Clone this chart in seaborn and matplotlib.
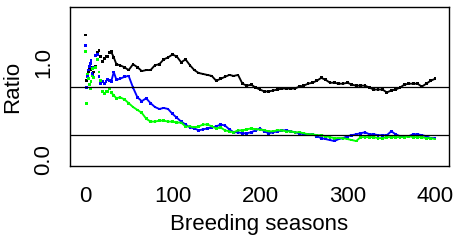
import matplotlib
matplotlib.use("Agg")
import matplotlib.pyplot as plt
import seaborn as sns
import pandas as pd

# ---- data ----
seasons = [1, 2, 3, 4, 5, 6, 7, 8, 9, 10, 12, 14, 16, 18, 20, 22, 24, 26, 28, 30, 33, 36, 40] + list(range(45, 401, 5))

black = [1.28, 0.81, 0.86, 0.90, 0.95, 0.95, 0.92, 0.89, 0.88, 0.90, 0.96, 1.10, 1.12, 1.06, 1.01, 1.04, 1.06, 1.06, 1.10, 1.11, 1.05, 0.98, 0.97,
         0.95, 0.92, 0.98, 0.95, 0.91, 0.92, 0.92, 0.97, 0.98, 1.03,
         1.05, 1.08, 1.06, 1.00, 1.03, 0.97, 0.92, 0.89, 0.88, 0.87,
         0.86, 0.81, 0.83, 0.85, 0.87, 0.86, 0.87, 0.78, 0.76, 0.77,
         0.74, 0.72, 0.70, 0.70, 0.71, 0.72, 0.73, 0.73, 0.73, 0.73,
         0.75, 0.76, 0.78, 0.79, 0.81, 0.84, 0.82, 0.79, 0.79, 0.78,
         0.78, 0.79, 0.77, 0.76, 0.76, 0.76, 0.74, 0.72, 0.72, 0.72,
         0.69, 0.71, 0.72, 0.74, 0.77, 0.78, 0.78, 0.78, 0.75, 0.78,
         0.81, 0.83]

blue = [1.17, 0.74, 0.85, 0.92, 0.96, 0.99, 1.02, 0.89, 0.87, 0.95, 1.07, 1.08, 0.85, 0.78, 0.80, 0.78, 0.80, 0.82, 0.81, 0.80, 0.90, 0.82, 0.83,
        0.85, 0.86, 0.74, 0.64, 0.60, 0.63, 0.58, 0.54, 0.52, 0.53,
        0.52, 0.47, 0.43, 0.39, 0.36, 0.33, 0.32, 0.30, 0.31, 0.32,
        0.33, 0.34, 0.36, 0.35, 0.31, 0.28, 0.28, 0.27, 0.27, 0.28,
        0.30, 0.32, 0.29, 0.27, 0.28, 0.29, 0.30, 0.30, 0.29, 0.28,
        0.27, 0.26, 0.26, 0.26, 0.24, 0.22, 0.21, 0.20, 0.19, 0.21,
        0.22, 0.24, 0.25, 0.26, 0.27, 0.28, 0.26, 0.26, 0.25, 0.25,
        0.25, 0.29, 0.26, 0.24, 0.24, 0.24, 0.26, 0.26, 0.25, 0.24,
        0.22, 0.22]

green = [1.11, 0.58, 0.88, 0.83, 0.77, 0.73, 0.80, 0.86, 0.94, 0.84, 0.95, 1.03, 0.90, 0.81, 0.70, 0.68, 0.70, 0.70, 0.73, 0.69, 0.66, 0.63, 0.64,
         0.62, 0.58, 0.54, 0.51, 0.48, 0.42, 0.39, 0.39, 0.40, 0.40,
         0.39, 0.39, 0.38, 0.38, 0.34, 0.34, 0.33, 0.34, 0.36, 0.36,
         0.34, 0.32, 0.33, 0.30, 0.29, 0.28, 0.30, 0.30, 0.31, 0.32,
         0.31, 0.31, 0.30, 0.29, 0.29, 0.30, 0.30, 0.29, 0.29, 0.28,
         0.28, 0.27, 0.26, 0.26, 0.25, 0.25, 0.24, 0.23, 0.22, 0.22,
         0.22, 0.21, 0.20, 0.19, 0.23, 0.23, 0.23, 0.23, 0.22, 0.22,
         0.23, 0.23, 0.23, 0.23, 0.23, 0.24, 0.23, 0.23, 0.23, 0.22,
         0.22, 0.21]

ref_lines = [0.75, 0.25]
x_ticks = [0, 100, 200, 300, 400]
y_ticks = [0.0, 0.5, 1.0, 1.5]
y_ticklabels = ["0.0", "", "1.0", ""]
series_names = ["black", "blue", "green"]
series_colors = {"black": "#000000", "blue": "#0000FF", "green": "#00FF00"}

# ---- build long table ----
frames = []
for name, vals in zip(series_names, [black, blue, green]):
    frames.append(pd.DataFrame({"season": seasons, "ratio": vals, "series": name}))
df = pd.concat(frames, ignore_index=True)

sns.set_style("white")
plt.rcParams["font.family"] = ["Liberation Sans", "DejaVu Sans"]
plt.rcParams["text.color"] = "black"
plt.rcParams["axes.labelcolor"] = "black"

fig = plt.figure(figsize=(4.68, 2.4), dpi=100)
ax = fig.add_axes([0.1496, 0.3083, 0.8098, 0.6625])

smooth = df[df["season"] >= 30]
sns.lineplot(data=smooth, x="season", y="ratio", hue="series", palette=series_colors,
             hue_order=series_names, linewidth=1.35, legend=False, ax=ax, estimator=None,
             sort=True)
sns.scatterplot(data=df, x="season", y="ratio", hue="series", palette=series_colors,
                hue_order=series_names, marker="s", s=4, linewidth=0, legend=False, ax=ax)

for yv in ref_lines:
    ax.axhline(yv, color="black", linewidth=0.9)

ax.set_xlim(-17, 416)
ax.set_ylim(-0.067, 1.569)
ax.set_xticks(x_ticks)
ax.set_xticklabels([str(t) for t in x_ticks])
ax.set_yticks(y_ticks)
ax.set_yticklabels(y_ticklabels, rotation=90, va="center")

for sp in ax.spines.values():
    sp.set_visible(True)
    sp.set_color("black")
    sp.set_linewidth(1.0)

ax.tick_params(axis="both", direction="out", length=9.5, width=0.9, color="black",
               labelsize=16, labelcolor="black")
ax.tick_params(axis="x", pad=5)
ax.tick_params(axis="y", pad=2)
ax.set_xlabel("Breeding seasons", fontsize=16, labelpad=5, color="black")
ax.set_ylabel("Ratio", fontsize=16, labelpad=7, color="black")

fig.savefig("out.png", dpi=100)
